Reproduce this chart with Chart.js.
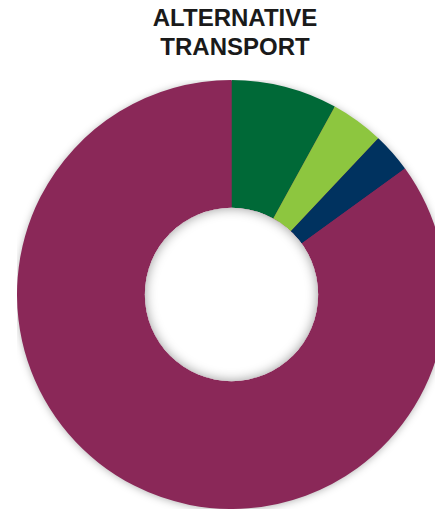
<!DOCTYPE html>
<html>
<head>
<meta charset="utf-8">
<script src="https://cdn.jsdelivr.net/npm/chart.js@4/dist/chart.umd.min.js"></script>
<style>
  html, body { margin: 0; padding: 0; background: #fff; overflow: hidden; width: 435px; height: 510px; }
  #title {
    position: absolute; left: 0; top: 3px; width: 470px; text-align: center;
    font: bold 24px "Liberation Sans", Arial, sans-serif; line-height: 29px; color: #1a1a1a;
  }
  #wrap { position: absolute; left: 17px; top: 80px; width: 429px; height: 429px; }
</style>
</head>
<body>
<div id="title">ALTERNATIVE<br>TRANSPORT</div>
<div id="wrap"><canvas id="donut"></canvas></div>
<script>
const labels = ['Share A', 'Share B', 'Share C', 'Other'];
const values = [8, 4, 3, 85];
const colors = ['#006937', '#8dc63f', '#00325f', '#8a2858'];

// soft drop shadow under the ring and an inset shadow inside the hole
const ringShadow = {
    id: 'ringShadow',
    beforeDatasetsDraw(chart) {
        const arc = chart.getDatasetMeta(0).data[0];
        if (!arc) return;
        const { x, y, outerRadius } = arc.getProps(['x', 'y', 'outerRadius'], true);
        const c = chart.ctx;
        c.save();
        c.shadowColor = 'rgba(0,0,0,0.35)';
        c.shadowBlur = 9;
        c.shadowOffsetY = 1;
        c.fillStyle = '#8a2858';
        c.beginPath();
        c.arc(x, y, outerRadius - 1, 0, Math.PI * 2);
        c.fill();
        c.restore();
    },
    afterDatasetsDraw(chart) {
        const arc = chart.getDatasetMeta(0).data[0];
        if (!arc) return;
        const { x, y, innerRadius } = arc.getProps(['x', 'y', 'innerRadius'], true);
        const c = chart.ctx;
        c.save();
        c.beginPath();
        c.arc(x, y, innerRadius, 0, Math.PI * 2);
        c.clip();
        c.fillStyle = '#fff';
        c.fillRect(x - innerRadius - 2, y - innerRadius - 2, innerRadius * 2 + 4, innerRadius * 2 + 4);
        c.shadowColor = 'rgba(0,0,0,0.4)';
        c.shadowBlur = 12;
        c.lineWidth = 20;
        c.strokeStyle = '#fff';
        c.beginPath();
        c.arc(x, y, innerRadius + 10, 0, Math.PI * 2);
        c.stroke();
        c.restore();
    }
};

new Chart(document.getElementById('donut'), {
    type: 'doughnut',
    data: {
        labels,
        datasets: [{
            data: values,
            backgroundColor: colors,
            borderWidth: 0,
        }]
    },
    options: {
        responsive: true,
        maintainAspectRatio: false,
        animation: false,
        cutout: '40.4%',
        layout: { padding: 0 },
        plugins: {
            legend: { display: false },
            tooltip: { enabled: false },
        }
    },
    plugins: [ringShadow]
});
</script>
</body>
</html>
